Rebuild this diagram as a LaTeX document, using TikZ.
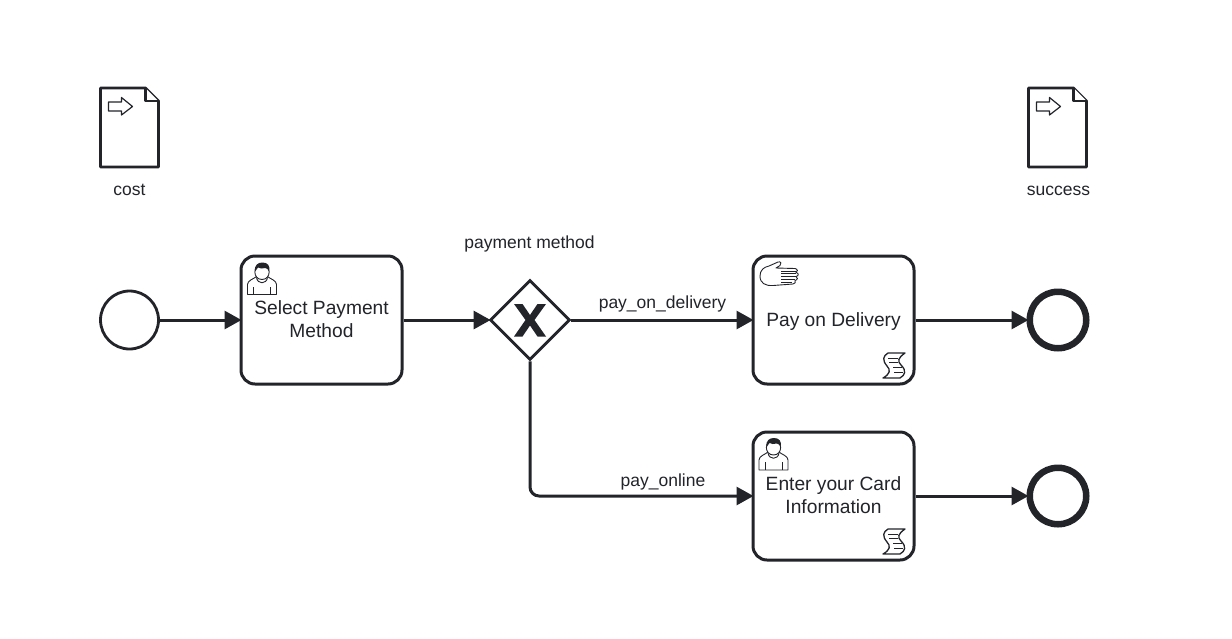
\documentclass[tikz,border=0pt]{standalone}
\usepackage{fontspec}
\setmainfont{Liberation Sans}
\usetikzlibrary{arrows.meta,shapes.geometric}
\definecolor{ink}{HTML}{22242A}
\newcommand{\pxfont}[1]{\fontsize{#1}{23}\selectfont}
\tikzset{
 x=1pt,y=-1pt,
 taskbox/.style={draw=ink,line width=3pt,rounded corners=14pt,minimum width=161pt,minimum height=128pt,align=center,inner sep=0pt,fill=white,font=\pxfont{19.2},text=ink},
 startev/.style={circle,draw=ink,line width=2.8pt,minimum size=58pt,inner sep=0pt,fill=white},
 endev/.style={circle,draw=ink,line width=6.5pt,minimum size=56.5pt,inner sep=0pt,fill=white},
 gate/.style={diamond,draw=ink,line width=2.8pt,minimum width=80pt,minimum height=80pt,inner sep=0pt,fill=white},
 flow/.style={draw=ink,line width=3pt,shorten >=-2pt,-{Triangle[length=17pt,width=18pt]}},
 lab/.style={font=\pxfont{17.5},text=ink,inner sep=0pt},
 ico/.style={draw=ink,line width=.9pt,line join=round,fill=white},
 doc/.style={draw=ink,line width=2.8pt,line join=round,fill=white},
}
\newcommand{\dataobj}[2]{%
 \begin{scope}[shift={(#1,#2)}]
 \draw[doc] (0,0) -- (45,0) -- (58,13) -- (58,79) -- (0,79) -- cycle;
 \draw[doc] (45,0) -- (45,13) -- (58,13);
 \draw[ico,line width=1.2pt] (8,14) -- (21,14) -- (21,9.5) -- (32,18.5) -- (21,27) -- (21,23) -- (8,23) -- cycle;
 \end{scope}}
\newcommand{\usericon}[2]{%
 \begin{scope}[shift={(#1,#2)}]
 \draw[ico] (0,32) -- (0,22) .. controls (0,18) and (6,16.5) .. (9,14) -- (20,14) .. controls (23,16.5) and (29,18) .. (29,22) -- (29,32) -- cycle;
 \draw[ico] (6,32) -- (6,24) (23,32) -- (23,24);
 \draw[ico] (9,15) .. controls (10,22) and (19,22) .. (20,15);
 \draw[ico] (14.5,2) .. controls (5,2) and (5,17) .. (14.5,17) .. controls (24,17) and (24,2) .. (14.5,2) -- cycle;
 \fill[ink] (7.6,9) .. controls (6.5,2) and (11,0) .. (15,0) .. controls (20,0) and (23,3) .. (21.6,9) .. controls (20.5,7) and (19.5,5.5) .. (18,5.5) .. controls (15,6.5) and (12,6) .. (10.5,5) .. controls (9.5,6.5) and (8.5,7.5) .. (7.6,9) -- cycle;
 \end{scope}}
\newcommand{\scripticon}[2]{%
 \begin{scope}[shift={(#1,#2)}]
 \draw[ico,line width=1.3pt] (5,0) -- (22,0) .. controls (15,5) and (14,8) .. (18,12) .. controls (24,18) and (22,22) .. (17,25) -- (0,25) .. controls (7,21) and (8,17) .. (4,13) .. controls (-1,7) and (0,3) .. (5,0) -- cycle;
 \draw[ico] (5,5) -- (15,5) (6,9) -- (15,9) (10,14) -- (19,14) (11,19) -- (20,19);
 \end{scope}}
\begin{document}
\begin{tikzpicture}
\useasboundingbox (0,0) rectangle (1232,638);
\fill[white] (0,0) rectangle (1232,638);
\node[startev] (start) at (129.5,320) {};
\node[taskbox] (select) at (321.5,320) {Select Payment\\Method\rule[-2pt]{0pt}{1pt}};
\node[gate] (gw) at (530,320) {};
\node[taskbox] (deliv) at (833.5,320) {\smash{\raisebox{-6.5pt}{Pay on Delivery}}};
\node[taskbox] (card) at (833.5,496) {Enter your Card\\Information\rule[-1pt]{0pt}{1pt}};
\node[endev] (end1) at (1058,320) {};
\node[endev] (end2) at (1058,496) {};
\draw[flow] (start) -- (select);
\draw[flow] (select) -- (gw);
\draw[flow] (gw) -- (deliv);
\draw[flow] (deliv) -- (end1);
\draw[flow] (card) -- (end2);
\draw[flow,rounded corners=9pt] (gw.south) |- (card.west);
% gateway X
\fill[ink] (514,304) -- (522.5,304) -- (530,315) -- (537.5,304) -- (546,304) -- (534.5,320) -- (546,336.5) -- (537.5,336.5) -- (530,325.5) -- (522.5,336.5) -- (514,336.5) -- (525.5,320) -- cycle;
% labels
\node[lab] (lgw) at (529.5,243.5) {payment method};
\node[lab] (ld) at (662.5,303.5) {pay\_on\_delivery};
\node[lab] (lo) at (663,481.5) {pay\_online};
\node[lab] (lc) at (129.5,190) {cost};
\node[lab] (ls) at (1058.5,190.5) {success};
% data objects
\dataobj{100.5}{88}
\dataobj{1028.5}{88}
% icons
\usericon{247.5}{262.5}
\usericon{759}{438}
\scripticon{883}{353}
\scripticon{883}{529}
% hand
\draw[ico] (760,276) .. controls (760,270) and (764,267) .. (769,266) -- (778,262) .. controls (781,261) and (782,264) .. (780,265.5) -- (776,268) -- (795,268.5) .. controls (798,269) and (798,272) .. (796,272.5) .. controls (799,273) and (799,276) .. (796,276.5) .. controls (798,277) and (798,280) .. (795,280.5) .. controls (796,282) and (795,284) .. (793,284) -- (773,285.5) .. controls (765,286) and (760,283) .. (760,276) -- cycle;
\draw[ico] (781,271) -- (796,271) (781,273.5) -- (796,273.5) (781,276.5) -- (796,276.5) (781,279.5) -- (795,279.5) (781,282) -- (792,282);
\end{tikzpicture}
\end{document}
